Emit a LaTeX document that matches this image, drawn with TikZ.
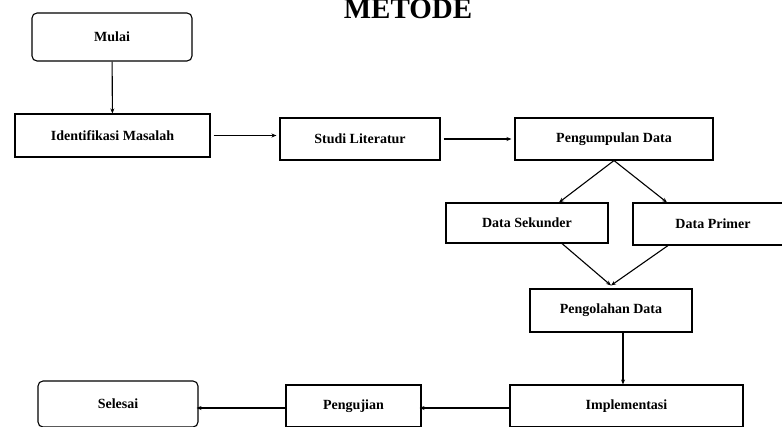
\documentclass[tikz,border=0pt]{standalone}
\usepackage{fontspec}
\setmainfont{Liberation Serif}
\usetikzlibrary{arrows.meta}
\begin{document}
\begin{tikzpicture}[x=1pt, y=-1pt, >={Stealth[length=5pt, width=4pt]},
  box/.style={draw, line width=1.1pt, inner sep=0pt, minimum height=42pt,
    font=\fontsize{14}{16}\selectfont\bfseries},
  ends/.style={box, rounded corners=5pt},
  flow/.style={->, line width=1.1pt}]
  \useasboundingbox (0,0) rectangle (782,426);
  \clip (0,0) rectangle (782,426);
  \node[anchor=base, font=\fontsize{29}{32}\selectfont\bfseries] (title) at (408,18) {METODE};
  % baris atas
  \node[ends, minimum width=160pt, minimum height=48pt] (mulai) at (112,37) {Mulai};
  \node[box, minimum width=195pt, minimum height=43pt] (idm) at (112.5,135.5) {Identifikasi Masalah};
  \node[box, minimum width=160pt] (studi) at (360,139) {Studi Literatur};
  \node[box, minimum width=198pt] (pd) at (614,139) {Pengumpulan Data};
  % data
  \node[box, minimum width=162pt, minimum height=40pt] (ds) at (527,223) {Data Sekunder};
  \node[box, minimum width=160pt] (dp) at (713,224) {Data Primer};
  \node[box, minimum width=162pt, minimum height=43pt] (pol) at (611,310.5) {Pengolahan Data};
  % baris bawah
  \node[box, minimum width=233pt] (impl) at (626.5,406) {Implementasi};
  \node[box, minimum width=135pt] (uji) at (353.5,406) {Pengujian};
  \node[ends, minimum width=160pt, minimum height=46pt] (selesai) at (118,404) {Selesai};
  % panah
  \draw[flow] (mulai) -- (idm);
  \draw[flow] ([xshift=3pt]idm.east) -- ([xshift=-3pt]idm.east -| studi.west);
  \draw[flow] ([xshift=3pt]studi.east) -- ([xshift=-3pt]pd.west);
  \draw[flow] (pd.south) -- ([xshift=32pt]ds.north);
  \draw[flow] (pd.south) -- ([xshift=-46pt]dp.north);
  \draw[flow] ([xshift=35pt]ds.south) -- ([yshift=3pt]pol.north);
  \draw[flow] ([xshift=-45pt]dp.south) -- ([yshift=3pt]pol.north);
  \draw[flow] ([xshift=12pt]pol.south) -- ([xshift=12pt]pol.south |- impl.north);
  \draw[flow] (impl.west |- 0,408) -- ([xshift=-2pt]uji.east |- 0,408);
  \draw[flow] (uji.west |- 0,408) -- ([xshift=-2pt]selesai.east |- 0,408);
\end{tikzpicture}
\end{document}
